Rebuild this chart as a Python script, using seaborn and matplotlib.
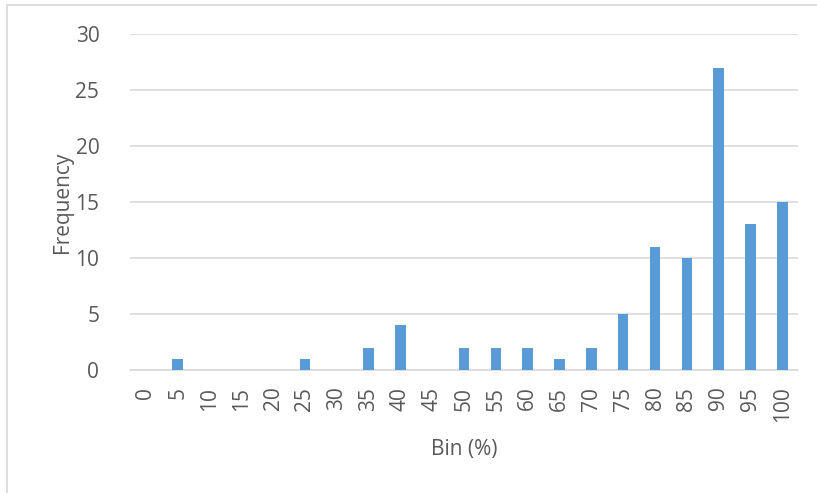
import pandas as pd
import matplotlib
matplotlib.use("Agg")
import matplotlib.pyplot as plt
import seaborn as sns
from matplotlib.patches import Rectangle

# --- Datos ---
bins = ['0', '5', '10', '15', '20', '25', '30', '35', '40', '45', '50',
        '55', '60', '65', '70', '75', '80', '85', '90', '95', '100']
frequency = [0, 1, 0, 0, 0, 1, 0, 2, 4, 0, 2,
             2, 2, 1, 2, 5, 11, 10, 27, 13, 15]
y_ticks = [0, 5, 10, 15, 20, 25, 30]

df = pd.DataFrame({'bin': bins, 'freq': frequency})

sns.set_theme(style="white")
plt.rcParams['font.family'] = ['Open Sans', 'DejaVu Sans']
text_color = '#595959'

fig = plt.figure(figsize=(8.17, 4.93), dpi=100)
ax = fig.add_axes([0.159, 0.2495, 0.818, 0.6815])

sns.barplot(data=df, x='bin', y='freq', order=bins, color='#5B9BD5',
            width=0.33, saturation=1, linewidth=0, ax=ax, zorder=3)

ax.set_ylim(0, 30)
ax.set_yticks(y_ticks)
ax.set_xlim(-0.5, len(bins) - 0.5)
ax.yaxis.grid(True, color='#D9D9D9', linewidth=1.2, zorder=0)
ax.set_axisbelow(True)
for s in ['top', 'right', 'left']:
    ax.spines[s].set_visible(False)
ax.spines['bottom'].set_color('#D9D9D9')
ax.spines['bottom'].set_linewidth(1.2)

ax.tick_params(axis='both', length=0, colors=text_color, labelsize=15)
ax.tick_params(axis='y', pad=22)
ax.tick_params(axis='x', pad=12)
plt.setp(ax.get_xticklabels(), rotation=90)

ax.set_xlabel('Bin (%)', fontsize=15, color=text_color, labelpad=12)
ax.set_ylabel('Frequency', fontsize=15, color=text_color, labelpad=2)

# marco del gráfico
fig.patches.append(Rectangle((7 / 817, -0.05), 1.2, 1 - 5 / 493 + 0.05,
                             transform=fig.transFigure, fill=False,
                             edgecolor='#D9D9D9', linewidth=1.2))

fig.savefig('out.png', dpi=100)
